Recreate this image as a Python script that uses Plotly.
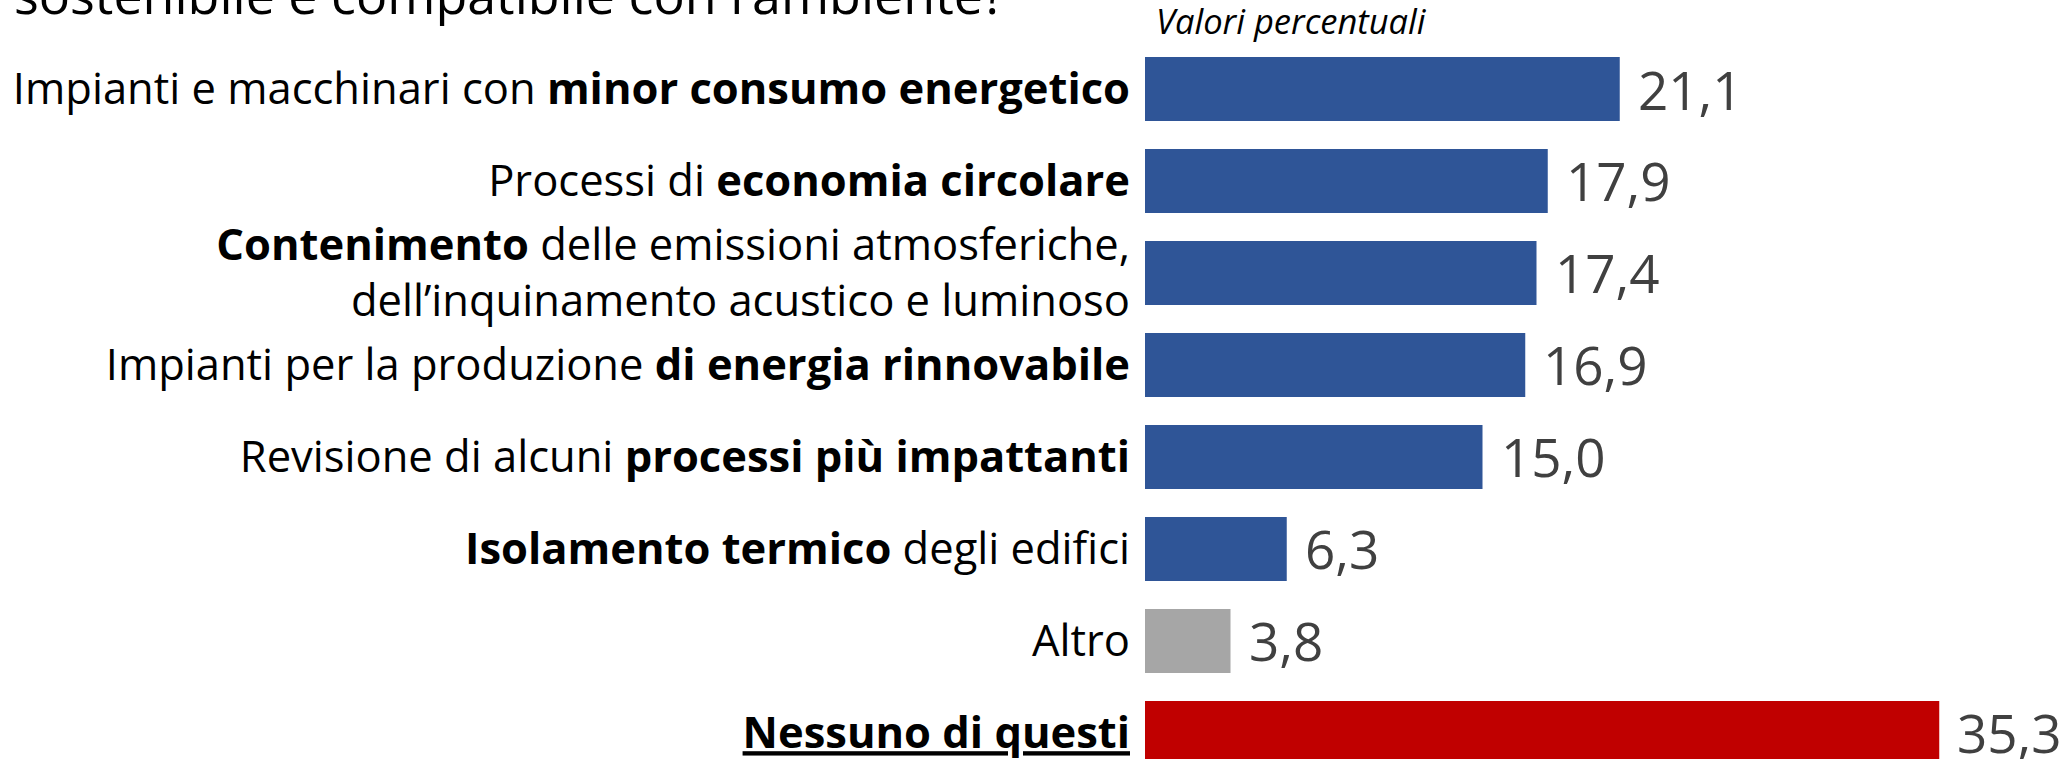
import plotly.graph_objects as go

# Survey answers (percent of respondents), top to bottom
categories = [
    "Impianti e macchinari con <b>minor consumo energetico</b>",
    "Processi di <b>economia circolare</b>",
    "<b>Contenimento</b> delle emissioni atmosferiche,<br>dell’inquinamento acustico e luminoso",
    "Impianti per la produzione <b>di energia rinnovabile</b>",
    "Revisione di alcuni <b>processi più impattanti</b>",
    "<b>Isolamento termico</b> degli edifici",
    "Altro",
    "<b><u>Nessuno di questi</u></b>",
]
values = [21.1, 17.9, 17.4, 16.9, 15.0, 6.3, 3.8, 35.3]

BLUE, GREY, RED = "#2F5597", "#A6A6A6", "#C00000"
bar_colors = [BLUE] * 6 + [GREY, RED]

W, H = 2061, 759
M_L, M_R, M_T, M_B = 1145, 16, 43, 0
PLOT_W = W - M_L - M_R
PLOT_H = H - M_T - M_B

LABEL_FONT = "Open Sans, Roboto, sans-serif"
VALUE_FONT = "Liberation Sans Narrow, Open Sans, sans-serif"


def paper_x(px):
    return (px - M_L) / PLOT_W


def paper_y(px):
    return 1 - (px - M_T) / PLOT_H


fig = go.Figure(
    go.Bar(
        x=values,
        y=categories,
        orientation="h",
        marker=dict(color=bar_colors, line=dict(width=0)),
        hoverinfo="skip",
    )
)

# value labels to the right of each bar
for cat, v in zip(categories, values):
    fig.add_annotation(
        x=v, y=cat, xref="x", yref="y",
        text=f"{v:.1f}".replace(".", ","),
        showarrow=False, xanchor="left", yanchor="middle", xshift=16,
        font=dict(family=VALUE_FONT, size=53, color="#404040"),
    )

# last line of the question, running off the top edge
fig.add_annotation(
    xref="paper", yref="paper", x=paper_x(12), y=paper_y(31),
    text="sostenibile e compatibile con l’ambiente?",
    showarrow=False, xanchor="left", yanchor="bottom",
    font=dict(family=LABEL_FONT, size=52, color="#000000"),
)

fig.add_annotation(
    xref="paper", yref="paper", x=paper_x(1154), y=paper_y(46),
    text="<i>Valori percentuali</i>",
    showarrow=False, xanchor="left", yanchor="bottom",
    font=dict(family=LABEL_FONT, size=34.5, color="#000000"),
)

fig.update_layout(
    width=W, height=H,
    margin=dict(l=M_L, r=M_R, t=M_T, b=M_B, autoexpand=False),
    paper_bgcolor="white", plot_bgcolor="white",
    bargap=0.304,
    showlegend=False,
    xaxis=dict(range=[0, 40], visible=False, fixedrange=True),
    yaxis=dict(
        type="category",
        range=[len(categories) - 1 + 0.283, -0.5],
        showgrid=False, showline=False, zeroline=False,
        ticks="", ticklabelstandoff=14, automargin=False,
        tickfont=dict(family=LABEL_FONT, size=43.5, color="#000000"),
        fixedrange=True,
    ),
)

fig.write_html("out.html")
